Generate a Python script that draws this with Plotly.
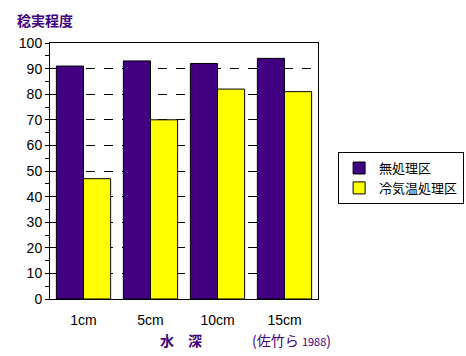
import plotly.graph_objects as go

categories = ["1cm", "5cm", "10cm", "15cm"]
untreated = [91, 93, 92, 94]
cold_water = [47, 70, 82, 81]
series_names = ["無処理区", "冷気温処理区"]
y_ticks = [0, 10, 20, 30, 40, 50, 60, 70, 80, 90, 100]

PURPLE = "#400080"
YELLOW = "#FFFF00"
FONT = "Liberation Sans, Noto Sans CJK JP, sans-serif"
JP = "Noto Sans CJK JP, sans-serif"

fig = go.Figure()
fig.add_trace(go.Bar(x=categories, y=untreated, name=series_names[0],
                     marker=dict(color=PURPLE, line=dict(color="black", width=1))))
fig.add_trace(go.Bar(x=categories, y=cold_water, name=series_names[1],
                     marker=dict(color=YELLOW, line=dict(color="black", width=1))))

fig.update_layout(
    width=466, height=356,
    margin=dict(l=50, r=148, t=43, b=57, autoexpand=False),
    paper_bgcolor="white", plot_bgcolor="white",
    barmode="group", bargap=0.19, bargroupgap=0,
    font=dict(family=FONT, size=14, color="black"),
    showlegend=True,
    legend=dict(x=1.075, y=0.574, xanchor="left", yanchor="top",
                bordercolor="black", borderwidth=1, bgcolor="white",
                font=dict(family=JP, size=13),
                tracegroupgap=0, itemwidth=30),
)
fig.update_yaxes(range=[0, 100], tickvals=y_ticks, ticks="outside", ticklen=4,
                 tickcolor="black", showline=True, linecolor="black", linewidth=1,
                 mirror=True, showgrid=True, gridcolor="black", griddash="dash",
                 gridwidth=1, zeroline=False,
                 minor=dict(dtick=5, ticks="outside", ticklen=4, tickcolor="black",
                            showgrid=False),
                 tickfont=dict(family=FONT, size=14))
fig.update_xaxes(showline=True, linecolor="black", linewidth=1, mirror=True,
                 ticks="", tickfont=dict(family=FONT, size=14), ticklabelstandoff=8)

fig.add_annotation(text="<b>稔実程度</b>", xref="paper", yref="paper",
                   x=-0.13, y=1.09, xanchor="left", yanchor="middle", showarrow=False,
                   font=dict(family=JP, size=14, color=PURPLE))
fig.add_annotation(text="<b>水　深</b>", xref="paper", yref="paper",
                   x=0.489, y=-0.16, xanchor="center", yanchor="middle", showarrow=False,
                   font=dict(family=JP, size=14, color=PURPLE))
fig.add_annotation(text="(佐竹ら <span style='font-size:11px'>1988</span>)",
                   xref="paper", yref="paper",
                   x=1.056, y=-0.16, xanchor="right", yanchor="middle", showarrow=False,
                   font=dict(family=JP, size=14, color=PURPLE))

fig.write_html("out.html", config={"displayModeBar": False},
               post_script="document.body.style.margin='0';")
